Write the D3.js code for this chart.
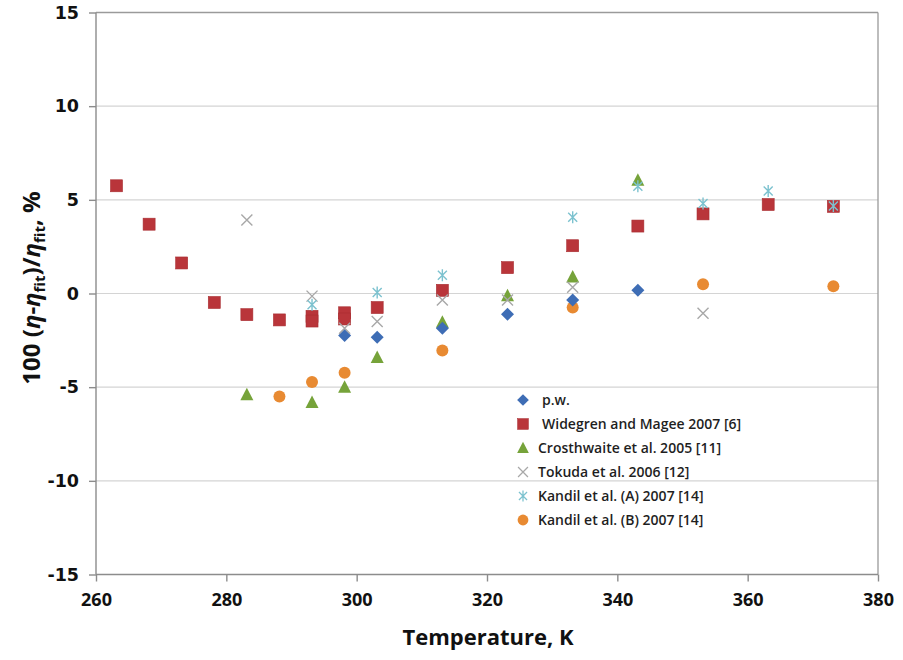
<!DOCTYPE html>
<html>
<head>
<meta charset="utf-8">
<script src="https://cdn.jsdelivr.net/npm/d3@7"></script>
<style>
  body { margin: 0; background: #fff; }
  svg { display: block; }
</style>
</head>
<body>
<svg width="903" height="660"></svg>
<script>
// data
var xTicks = [260, 280, 300, 320, 340, 360, 380];
var yTicks = [-15, -10, -5, 0, 5, 10, 15];

var tPw = [298.15, 303.15, 313.15, 323.15, 333.15, 343.15];
var pw = [-2.24, -2.33, -1.85, -1.11, -0.35, 0.17];

var tWid = [263.15, 268.15, 273.15, 278.15, 283.15, 288.15, 293.15, 293.15, 298.15, 298.15,
            303.15, 313.15, 323.15, 333.15, 343.15, 353.15, 363.15, 373.15];
var wid = [5.75, 3.7, 1.63, -0.48, -1.13, -1.41, -1.22, -1.47, -1.03, -1.36,
           -0.75, 0.17, 1.38, 2.55, 3.6, 4.25, 4.75, 4.65];

var tCro = [283.15, 293.15, 298.15, 303.15, 313.15, 323.15, 333.15, 343.15];
var cro = [-5.4, -5.82, -5.0, -3.42, -1.53, -0.12, 0.88, 6.05];

var tTok = [283.15, 293.15, 298.15, 303.15, 313.15, 323.15, 333.15, 353.15];
var tok = [3.92, -0.14, -1.85, -1.5, -0.35, -0.35, 0.33, -1.06];

var tKa = [293.15, 303.15, 313.15, 333.15, 343.15, 353.15, 363.15, 373.15];
var kA = [-0.6, 0.05, 0.97, 4.07, 5.73, 4.8, 5.47, 4.67];

var tKb = [288.15, 293.15, 298.15, 313.15, 333.15, 353.15, 373.15];
var kB = [-5.5, -4.73, -4.23, -3.04, -0.75, 0.49, 0.39];

var legendNames = ["p.w.", "Widegren and Magee 2007 [6]", "Crosthwaite et al. 2005 [11]",
                   "Tokuda et al. 2006 [12]", "Kandil et al. (A) 2007 [14]", "Kandil et al. (B) 2007 [14]"];

var plotLeft = 96, plotRight = 878, plotTop = 12.5, plotBottom = 574.5;

var svg = d3.select("svg");

var x = d3.scaleLinear().domain([260, 380]).range([plotLeft, plotRight]);
var y = d3.scaleLinear().domain([-15, 15]).range([plotBottom, plotTop]);

// gridlines
svg.append("g")
    .selectAll("line")
    .data(yTicks.slice(1))
    .enter()
    .append("line")
    .attr("x1", plotLeft).attr("x2", plotRight)
    .attr("y1", function(d) { return y(d); })
    .attr("y2", function(d) { return y(d); })
    .attr("stroke", "#d4d4d4")
    .attr("stroke-width", 1.2);

// frame on top and right
svg.append("line").attr("x1", plotLeft).attr("x2", plotRight).attr("y1", plotTop).attr("y2", plotTop)
    .attr("stroke", "#9a9a9a").attr("stroke-width", 1.3);
svg.append("line").attr("x1", plotRight).attr("x2", plotRight).attr("y1", plotTop).attr("y2", plotBottom)
    .attr("stroke", "#9a9a9a").attr("stroke-width", 1.3);

var yAxis = svg.append("g")
    .attr("transform", "translate(" + plotLeft + ",0)")
    .call(d3.axisLeft(y).tickValues(yTicks).tickSize(7).tickPadding(10)
        .tickFormat(function(d) { return String(d); }));

var xAxis = svg.append("g")
    .attr("transform", "translate(0," + plotBottom + ")")
    .call(d3.axisBottom(x).tickValues(xTicks).tickSize(7).tickPadding(12));

yAxis.selectAll("path, line").attr("stroke", "#8c8c8c").attr("stroke-width", 1.4);
xAxis.selectAll("path, line").attr("stroke", "#8c8c8c").attr("stroke-width", 1.4);
yAxis.select(".domain").attr("d", "M0," + plotTop + "V" + plotBottom);
xAxis.select(".domain").attr("d", "M" + plotLeft + ",0H" + plotRight);

yAxis.selectAll("text")
    .style("font-family", "'DejaVu Sans', sans-serif")
    .style("font-weight", "bold")
    .style("font-size", "17.5px")
    .attr("fill", "#111");
xAxis.selectAll("text")
    .style("font-family", "'Open Sans', sans-serif")
    .style("font-weight", "bold")
    .style("font-size", "18px")
    .attr("fill", "#111");

// axis titles
svg.append("text")
    .attr("x", (plotLeft + plotRight) / 2 + 1)
    .attr("y", 645)
    .attr("text-anchor", "middle")
    .style("font-family", "'Open Sans', sans-serif")
    .style("font-weight", "bold")
    .style("font-size", "22px")
    .attr("fill", "#111")
    .text("Temperature, K");

var yt = svg.append("text")
    .attr("transform", "translate(40,288) rotate(-90)")
    .attr("text-anchor", "middle")
    .style("font-family", "'Open Sans', sans-serif")
    .style("font-weight", "bold")
    .style("font-size", "24px")
    .attr("fill", "#111");
yt.append("tspan").text("100 (");
yt.append("tspan").style("font-style", "italic").text("η");
yt.append("tspan").text("-");
yt.append("tspan").style("font-style", "italic").text("η");
yt.append("tspan").attr("dy", 5).style("font-size", "15px").text("fit");
yt.append("tspan").attr("dy", -5).text(")/");
yt.append("tspan").style("font-style", "italic").text("η");
yt.append("tspan").attr("dy", 5).style("font-size", "15px").text("fit");
yt.append("tspan").attr("dy", -5).text(", %");

// marker shapes
function diamond(g) {
    g.append("path").attr("d", "M0,-6.5L6.5,0L0,6.5L-6.5,0Z").attr("fill", "#3e6db5");
}
function square(g) {
    g.append("rect").attr("x", -6).attr("y", -6).attr("width", 12).attr("height", 12)
        .attr("fill", "#b9353a").attr("stroke", "#a82d31").attr("stroke-width", 0.6);
}
function triangle(g) {
    g.append("path").attr("d", "M0,-7L6.5,5.5L-6.5,5.5Z").attr("fill", "#76a33a");
}
function cross(g) {
    g.append("path").attr("d", "M-5.5,-5.5L5.5,5.5M5.5,-5.5L-5.5,5.5")
        .attr("stroke", "#a8a8a8").attr("stroke-width", 1.4).attr("fill", "none");
}
function star(g) {
    g.append("path").attr("d", "M-4.5,-4.5L4.5,4.5M4.5,-4.5L-4.5,4.5M0,-6V6")
        .attr("stroke", "#7cc2cf").attr("stroke-width", 1.4).attr("fill", "none");
}
function circle(g) {
    g.append("circle").attr("r", 6).attr("fill", "#e88a32");
}

var series = [
    { t: tCro, v: cro, draw: triangle },
    { t: tKb, v: kB, draw: circle },
    { t: tWid, v: wid, draw: square },
    { t: tPw, v: pw, draw: diamond },
    { t: tTok, v: tok, draw: cross },
    { t: tKa, v: kA, draw: star }
];

series.forEach(function(s) {
    svg.append("g")
        .selectAll("g")
        .data(s.v)
        .enter()
        .append("g")
        .attr("transform", function(d, i) {
            return "translate(" + x(s.t[i]) + "," + y(d) + ")";
        })
        .each(function() { s.draw(d3.select(this)); });
});

// legend
var legendDraw = [diamond, square, triangle, cross, star, circle];
var legend = svg.append("g")
    .selectAll("g")
    .data(legendNames)
    .enter()
    .append("g")
    .attr("transform", function(d, i) { return "translate(523," + (400 + i * 24) + ")"; });

legend.each(function(d, i) {
    var g = d3.select(this);
    var m = g.append("g").attr("transform", "scale(0.9)");
    legendDraw[i](m);
    g.append("text")
        .attr("x", i == 0 || i == 1 ? 19 : 15)
        .attr("y", 5)
        .style("font-family", "'Open Sans', sans-serif")
        .style("font-size", "14px")
        .style("font-weight", 600)
        .attr("fill", "#1f1f1f")
        .text(d);
});
</script>
</body>
</html>
